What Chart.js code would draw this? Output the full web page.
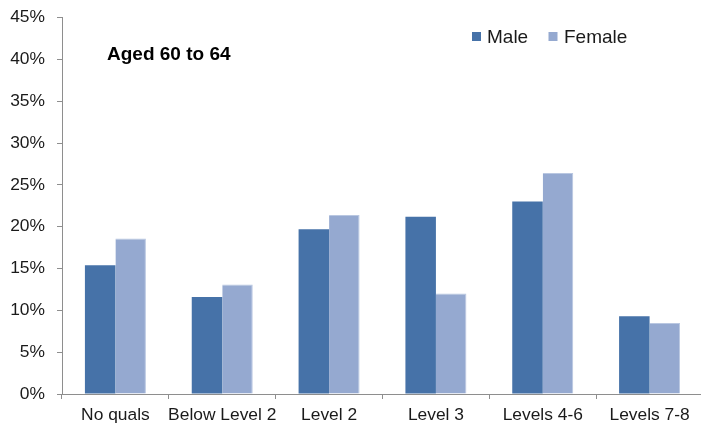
<!DOCTYPE html>
<html>
<head>
<meta charset="utf-8">
<script src="https://cdn.jsdelivr.net/npm/chart.js@4/dist/chart.umd.min.js"></script>
<style>
  html, body { margin: 0; padding: 0; background: #fff; overflow: hidden; }
  #wrap { width: 704px; height: 423px; }
</style>
</head>
<body>
<div id="wrap"><canvas id="chart" width="704" height="423"></canvas></div>
<script>
// Share of people aged 60 to 64 by highest qualification, split by sex (%)
const categories = ['No quals', 'Below Level 2', 'Level 2', 'Level 3', 'Levels 4-6', 'Levels 7-8'];
const maleValues = [15.4, 11.6, 19.7, 21.2, 23.0, 9.3];
const femaleValues = [18.6, 13.1, 21.4, 12.0, 26.4, 8.5];
const yTicks = [0, 5, 10, 15, 20, 25, 30, 35, 40, 45];
const chartTitle = 'Aged 60 to 64';

const MALE_COLOR = '#4672A8';
const FEMALE_COLOR = '#95A9D0';
const AXIS_COLOR = '#8E8E8E';
const TEXT_COLOR = '#1A1A1A';
const FONT = '"Liberation Sans", Arial, sans-serif';

// Heading and legend drawn inside the plot area
const overlay = {
  id: 'overlay',
  afterDraw(chart) {
    const ctx = chart.ctx;
    ctx.save();
    ctx.fillStyle = '#000';
    ctx.font = 'bold 19px ' + FONT;
    ctx.textAlign = 'left';
    ctx.textBaseline = 'alphabetic';
    ctx.fillText(chartTitle, 107, 60);

    ctx.font = '19px ' + FONT;
    const items = [
      { ds: chart.data.datasets[0], box: 472, text: 487 },
      { ds: chart.data.datasets[1], box: 548.5, text: 564 }
    ];
    items.forEach(it => {
      ctx.fillStyle = it.ds.backgroundColor;
      ctx.fillRect(it.box, 32, 9, 9);
      ctx.fillStyle = TEXT_COLOR;
      ctx.fillText(it.ds.label, it.text, 42.5);
    });
    ctx.restore();
  }
};

new Chart(document.getElementById('chart'), {
  type: 'bar',
  data: {
    labels: categories,
    datasets: [
      { label: 'Male', data: maleValues, backgroundColor: MALE_COLOR, borderWidth: 0 },
      { label: 'Female', data: femaleValues, backgroundColor: FEMALE_COLOR,
        borderColor: '#B9C7E1', borderWidth: { top: 1, right: 1, left: 0, bottom: 0 } }
    ]
  },
  options: {
    responsive: false,
    animation: false,
    devicePixelRatio: 1,
    layout: { padding: { top: 17.5, right: 1, bottom: 0, left: 0 } },
    datasets: { bar: { categoryPercentage: 0.571, barPercentage: 1.0 } },
    plugins: {
      legend: { display: false },
      title: { display: false },
      tooltip: { enabled: false }
    },
    scales: {
      x: {
        offset: true,
        grid: { display: true, drawOnChartArea: false, drawTicks: true, tickLength: 5, color: AXIS_COLOR, offset: true },
        border: { display: true, color: AXIS_COLOR, width: 1 },
        ticks: { color: TEXT_COLOR, font: { family: FONT, size: 17.4 }, padding: 6, maxRotation: 0, autoSkip: false },
        afterFit(scale) { scale.height = 29; scale.paddingLeft = 0; scale.paddingRight = 0; }
      },
      y: {
        min: 0,
        max: 45,
        afterBuildTicks(scale) { scale.ticks = yTicks.map(v => ({ value: v })); },
        grid: { display: true, drawOnChartArea: false, drawTicks: true, tickLength: 5, color: AXIS_COLOR },
        border: { display: true, color: AXIS_COLOR, width: 1 },
        ticks: { color: TEXT_COLOR, font: { family: FONT, size: 17.4 }, padding: 12, callback: v => v + '%' },
        afterFit(scale) { scale.width = 62; scale.paddingTop = 0; scale.paddingBottom = 0; }
      }
    }
  },
  plugins: [overlay]
});
</script>
</body>
</html>
